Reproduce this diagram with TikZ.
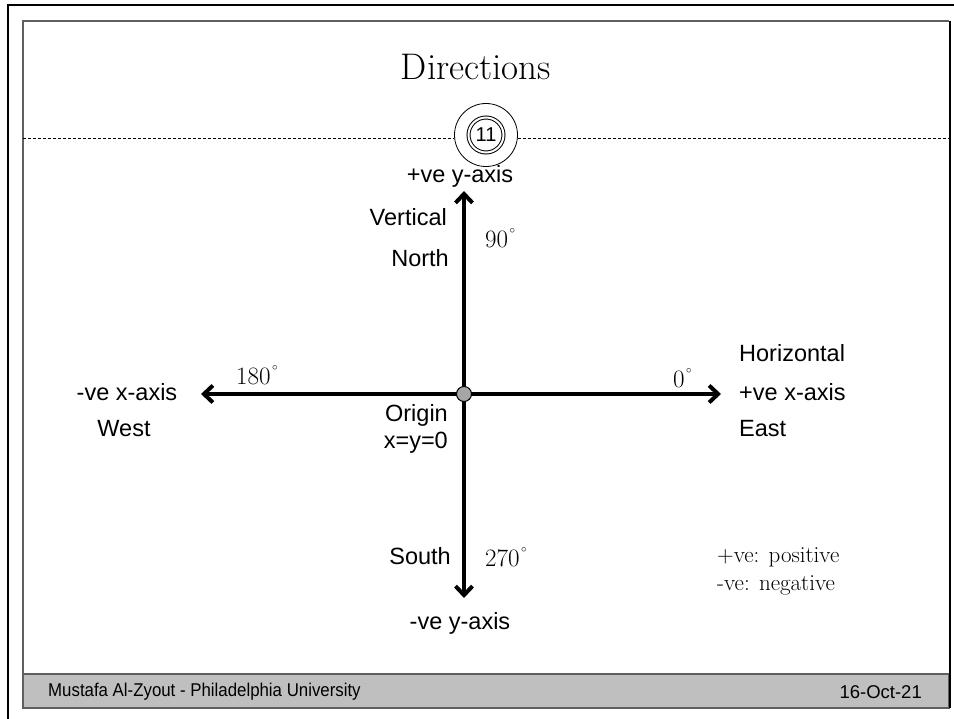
\documentclass[tikz,border=0pt]{standalone}
\usepackage{fontspec}
\newfontfamily\arialfont{Liberation Sans}
\newfontfamily\narrowfont[FakeStretch=0.91]{Liberation Sans}
\usetikzlibrary{arrows.meta}
\definecolor{footgray}{HTML}{BFBFBF}
\definecolor{framegray}{HTML}{5F5F5F}
\definecolor{dotgray}{HTML}{A6A6A6}
\newcommand\degsign{\hspace{1.5pt}\raisebox{14pt}{\fontsize{11}{11}\selectfont$\circ$}}
\begin{document}
\begin{tikzpicture}[x=1pt,y=-1pt,
  lbl/.style={font=\arialfont\fontsize{23.5}{28}\selectfont, inner sep=0pt},
  ang/.style={font=\fontsize{25}{30}\selectfont, inner sep=0pt, anchor=west},
  note/.style={font=\fontsize{23}{28}\selectfont, inner sep=0pt},
  footnarrow/.style={font=\narrowfont\fontsize{18.5}{22}\selectfont, inner sep=0pt},
  footplain/.style={font=\arialfont\fontsize{18.5}{22}\selectfont, inner sep=0pt},
  axisarrow/.style={line width=4pt, -{Straight Barb[length=9pt,width=17pt]}},
  origindot/.style={circle, draw=black, line width=1pt, fill=dotgray, minimum size=15pt, inner sep=0pt},
]
\useasboundingbox (0,0) rectangle (954,719);
% frames
\draw[line width=2.5pt] (8,719) -- (8,5) -- (954,5);
\draw[framegray, line width=1.5pt] (23,708) -- (23,21) -- (949,21);
\draw[fill=footgray, draw=framegray, line width=1.5pt] (23,674) rectangle (949,708);
\draw[black, line width=2pt] (949.5,21) -- (949.5,708);
% title
\node[font=\fontsize{37}{44}\selectfont, inner sep=0pt, anchor=base] (title) at (476,80) {Directions};
% page number
\node[circle, draw, line width=0.8pt, minimum size=63pt, inner sep=0pt] (pg) at (486,135) {};
\node[circle, draw, double, double distance=2pt, line width=1pt, minimum size=35pt, inner sep=0pt,
      font=\arialfont\fontsize{20}{24}\selectfont] (pgin) at (486,135) {11};
\coordinate (dL) at (23,138);
\coordinate (dR) at (949,138);
\draw[densely dashed, line width=0.9pt] (dL) -- (dL -| pg.west);
\draw[densely dashed, line width=0.9pt] (pg.east |- dR) -- (dR);
% axes
\coordinate (O) at (464,394);
\coordinate (top) at (464,191);
\coordinate (bot) at (464,598);
\coordinate (lft) at (201,394);
\coordinate (rgt) at (721,394);
\draw[axisarrow] (O) -- (top);
\draw[axisarrow] (O) -- (bot);
\draw[axisarrow] (O) -- (lft);
\draw[axisarrow] (O) -- (rgt);
\node[origindot] (Odot) at (O) {};
% labels
\node[lbl] (py) at (460,176) {+ve y-axis};
\node[lbl, anchor=east] (vert) at (447,217) {Vertical};
\node[lbl, anchor=east] (north) at (449,258) {North};
\node[ang] (a90) at (485,238) {90\degsign};
\node[lbl, anchor=west] (horiz) at (739,353) {Horizontal};
\node[lbl, anchor=west] (px) at (739,392) {+ve x-axis};
\node[lbl, anchor=west] (east) at (739,429) {East};
\node[ang] (a0) at (673,378) {0\degsign};
\node[ang] (a180) at (236,375) {180\degsign};
\node[lbl] (nx) at (127,392) {-ve x-axis};
\node[lbl] (west) at (124,429) {West};
\node[lbl, anchor=east] (orig) at (448,415) {Origin};
\node[lbl, anchor=east] (xy) at (448,443) {x=y=0};
\node[lbl, anchor=east] (south) at (451,556) {South};
\node[ang] (a270) at (485,557) {270\degsign};
\node[lbl] (ny) at (460,623) {-ve y-axis};
\node[note, anchor=base west] (pos) at (717,562) {+ve: positive};
\node[note, anchor=base west] (neg) at (717,590) {-ve: negative};
% footer
\node[footnarrow, anchor=west] (author) at (48,692) {Mustafa Al-Zyout - Philadelphia University};
\node[footplain, anchor=east] (date) at (922,692) {16-Oct-21};
\end{tikzpicture}
\end{document}
